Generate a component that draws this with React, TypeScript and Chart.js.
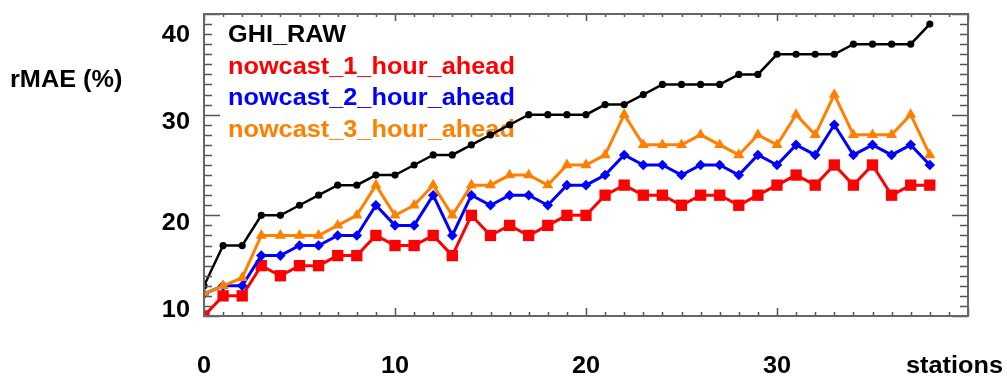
import React, { useEffect, useRef } from "react";
import { Chart, registerables } from "chart.js";

Chart.register(...registerables);

const stations = [
  0, 1, 2, 3, 4, 5, 6, 7, 8, 9, 10, 11, 12, 13, 14, 15, 16, 17, 18, 19,
  20, 21, 22, 23, 24, 25, 26, 27, 28, 29, 30, 31, 32, 33, 34, 35, 36, 37, 38,
];
const ghiRaw = [
  13, 17, 17, 20, 20, 21, 22, 23, 23, 24, 24, 25, 26, 26, 27, 28, 29, 30, 30, 30,
  30, 31, 31, 32, 33, 33, 33, 33, 34, 34, 36, 36, 36, 36, 37, 37, 37, 37, 39,
];
const nowcast1 = [
  10, 12, 12, 15, 14, 15, 15, 16, 16, 18, 17, 17, 18, 16, 20, 18, 19, 18, 19, 20,
  20, 22, 23, 22, 22, 21, 22, 22, 21, 22, 23, 24, 23, 25, 23, 25, 22, 23, 23,
];
const nowcast2 = [
  12.2, 13, 13, 16, 16, 17, 17, 18, 18, 21, 19, 19, 22, 18, 22, 21, 22, 22, 21, 23,
  23, 24, 26, 25, 25, 24, 25, 25, 24, 26, 25, 27, 26, 29, 26, 27, 26, 27, 25,
];
const nowcast3 = [
  12.2, 13, 13.8, 18, 18, 18, 18, 19, 20, 23, 20, 21, 23, 20, 23, 23, 24, 24, 23, 25,
  25, 26, 30, 27, 27, 27, 28, 27, 26, 28, 27, 30, 28, 32, 28, 28, 28, 30, 26,
];
const seriesNames = ["GHI_RAW", "nowcast_1_hour_ahead", "nowcast_2_hour_ahead", "nowcast_3_hour_ahead"];
const seriesColors = ["#000000", "#ff0000", "#0000ff", "#ff8000"];
const xTickValues = [0, 10, 20, 30];
const yTickValues = [10, 20, 30, 40];
const yTitle = "rMAE (%)";
const xTitle = "stations";

const FONT = "bold 23px 'Liberation Sans', Arial, sans-serif";
const SX = 1.1;

function drawText(ctx: CanvasRenderingContext2D, text: string, x: number, y: number, align: string, color: string) {
  ctx.save();
  ctx.font = FONT;
  ctx.fillStyle = color;
  ctx.textBaseline = "alphabetic";
  const w = ctx.measureText(text).width * SX;
  let left = x;
  if (align === "right") left = x - w;
  else if (align === "center") left = x - w / 2;
  ctx.translate(left, y);
  ctx.scale(SX, 1);
  ctx.textAlign = "left";
  ctx.fillText(text, 0, 0);
  ctx.restore();
}

const idlPlugin = {
  id: "idlDecor",
  beforeDatasetsDraw(chart: any) {
    const ctx = chart.ctx as CanvasRenderingContext2D;
    const area = chart.chartArea;
    seriesNames.forEach((name, i) => {
      drawText(ctx, name, area.left + 24, 42 + i * 31.7, "left", seriesColors[i]);
    });
  },
  afterDatasetsDraw(chart: any) {
    const ctx = chart.ctx as CanvasRenderingContext2D;
    const area = chart.chartArea;
    const xs = chart.scales.x;
    const ys = chart.scales.y;
    ctx.save();
    ctx.strokeStyle = "#555555";
    ctx.lineWidth = 1.5;
    for (let v = xs.min; v <= xs.max; v++) {
      const px = Math.round(xs.getPixelForValue(v)) + 0.5;
      const major = v % 10 === 0;
      const len = major ? 8 : 4;
      ctx.beginPath();
      ctx.moveTo(px, area.bottom);
      ctx.lineTo(px, area.bottom - len);
      ctx.moveTo(px, area.top);
      ctx.lineTo(px, area.top + len - 1);
      ctx.stroke();
    }
    for (let v = ys.min; v <= ys.max; v++) {
      const py = Math.round(ys.getPixelForValue(v)) + 0.5;
      const major = v % 10 === 0;
      const len = major ? 16 : 8;
      ctx.beginPath();
      ctx.moveTo(area.left, py);
      ctx.lineTo(area.left + len, py);
      ctx.moveTo(area.right, py);
      ctx.lineTo(area.right - len, py);
      ctx.stroke();
    }
    ctx.lineWidth = 2;
    ctx.strokeStyle = "#666666";
    ctx.strokeRect(area.left, area.top, area.right - area.left, area.bottom - area.top);
    ctx.restore();

    xTickValues.forEach((v) => {
      drawText(ctx, String(v), xs.getPixelForValue(v), 373, "center", "#000");
    });
    const yOffsets: Record<number, number> = { 10: 1, 20: 15, 30: 14, 40: 28 };
    yTickValues.forEach((v) => {
      drawText(ctx, String(v), area.left - 14, ys.getPixelForValue(v) + (yOffsets[v] ?? 8), "right", "#000");
    });
    drawText(ctx, yTitle, 10, 87, "left", "#000");
    drawText(ctx, xTitle, 1003, 373, "right", "#000");
  },
};

export default function App() {
  const canvasRef = useRef<HTMLCanvasElement | null>(null);

  useEffect(() => {
    document.body.style.margin = "0";
    const canvas = canvasRef.current;
    if (!canvas) return;
    const mk = (vals: number[]) => stations.map((s, i) => ({ x: s, y: vals[i] }));
    const clip = { left: 0, top: 8, right: 8, bottom: 0 };
    const chart = new Chart(canvas, {
      type: "line",
      data: {
        datasets: [
          {
            label: seriesNames[0],
            data: mk(ghiRaw),
            borderColor: seriesColors[0],
            backgroundColor: seriesColors[0],
            borderWidth: 2.5,
            pointStyle: "circle",
            pointRadius: 3.6,
            pointBorderWidth: 0,
            order: 4,
            clip,
          },
          {
            label: seriesNames[1],
            data: mk(nowcast1),
            borderColor: seriesColors[1],
            backgroundColor: seriesColors[1],
            borderWidth: 3,
            pointStyle: "rect",
            pointRadius: 8,
            pointBorderWidth: 0,
            order: 3,
            clip,
          },
          {
            label: seriesNames[2],
            data: mk(nowcast2),
            borderColor: seriesColors[2],
            backgroundColor: seriesColors[2],
            borderWidth: 3,
            pointStyle: "rectRot",
            pointRadius: 5.3,
            pointBorderWidth: 0,
            order: 2,
            clip,
          },
          {
            label: seriesNames[3],
            data: mk(nowcast3),
            borderColor: seriesColors[3],
            backgroundColor: seriesColors[3],
            borderWidth: 3,
            pointStyle: "triangle",
            pointRadius: 6.4,
            pointBorderWidth: 0,
            order: 1,
            clip,
          },
        ],
      },
      options: {
        animation: false,
        responsive: false,
        devicePixelRatio: 1,
        layout: { padding: { left: 204, right: 39, top: 14, bottom: 61 } },
        scales: {
          x: { type: "linear", min: 0, max: 40, display: false },
          y: { type: "linear", min: 10, max: 40, display: false },
        },
        elements: { line: { tension: 0 } },
        plugins: { legend: { display: false }, tooltip: { enabled: false } },
        events: [],
      },
      plugins: [idlPlugin],
    });
    return () => chart.destroy();
  }, []);

  return (
    <div style={{ position: "absolute", left: 0, top: 0, width: 1007, height: 377, background: "#fff" }}>
      <canvas ref={canvasRef} width={1007} height={377} style={{ width: 1007, height: 377, display: "block" }} />
    </div>
  );
}
